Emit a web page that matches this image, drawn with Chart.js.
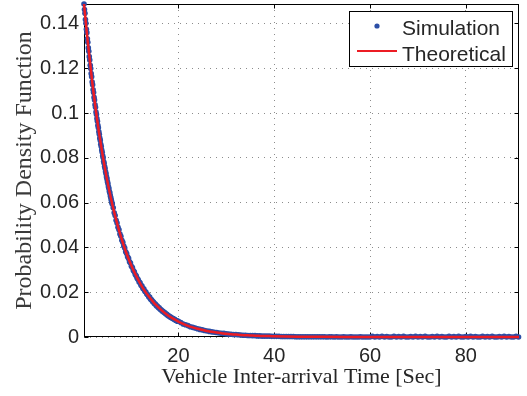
<!DOCTYPE html>
<html>
<head>
<meta charset="utf-8">
<script src="https://cdn.jsdelivr.net/npm/chart.js@4/dist/chart.umd.min.js"></script>
<style>
  html, body { margin: 0; padding: 0; background: #fff; }
  #wrap { width: 527px; height: 396px; }
</style>
</head>
<body>
<div id="wrap"><canvas id="c" width="527" height="396"></canvas></div>
<script>
// Empirical PDF of vehicle inter-arrival times, split into three bin-width segments
const simHeadStart = 0.3, simHeadStep = 0.1;
const simHeadPdf = [
  0.1487, 0.1462, 0.1446, 0.1418, 0.1401, 0.1374, 0.1359, 0.1332, 0.1316, 0.1291,
  0.1276, 0.1252, 0.1237, 0.1213, 0.1199, 0.1176, 0.1162, 0.1139, 0.1126, 0.1104,
  0.1092, 0.1070, 0.1058, 0.1037, 0.1026, 0.1005, 0.0994, 0.0975, 0.0963, 0.0945,
  0.0934, 0.0916, 0.0905, 0.0888, 0.0878, 0.0861, 0.0851, 0.0835, 0.0825, 0.0809,
  0.0800, 0.0784, 0.0776, 0.0761, 0.0752, 0.0738, 0.0729, 0.0715, 0.0706, 0.0693,
  0.0684, 0.0671, 0.0663, 0.0650, 0.0643, 0.0630, 0.0622, 0.0611, 0.0601, 0.0594
];
const simMidStart = 6.4, simMidStep = 0.2;
const simMidPdf = [
  0.0577, 0.0555, 0.0542, 0.0521, 0.0509, 0.0490, 0.0479, 0.0460, 0.0450, 0.0432,
  0.0423, 0.0406, 0.0397, 0.0381, 0.0373, 0.0358, 0.0351, 0.0336, 0.0330,
  0.0316, 0.0310, 0.0297, 0.0291, 0.0279, 0.0273, 0.0262, 0.0257, 0.0246, 0.0242,
  0.0231, 0.0227, 0.0217, 0.0214, 0.0204, 0.0201, 0.0192, 0.0189, 0.0180, 0.0178,
  0.0169, 0.0166, 0.0159, 0.0156, 0.0149, 0.0147, 0.0140, 0.0138, 0.0132, 0.0130,
  0.0124, 0.0122, 0.0116, 0.0115, 0.0109, 0.0108, 0.0103, 0.0101, 0.0096, 0.0095,
  0.0090, 0.0089, 0.0085, 0.0084, 0.0080, 0.0079, 0.0075, 0.0074, 0.0070, 0.0070
];
const simTailStart = 20.5, simTailStep = 0.5;
const simTailPdf = [
  0.0065, 0.0058, 0.0055, 0.0051, 0.0046, 0.0043, 0.0040, 0.0037, 0.0034, 0.0032,
  0.0029, 0.0027, 0.0025, 0.0023, 0.0021, 0.0020, 0.0018, 0.0017, 0.0016, 0.0014,
  0.0013, 0.0012, 0.0011, 0.0011, 0.0010, 0.0009, 0.0008, 0.0008, 0.0007, 0.0007,
  0.0006, 0.0006, 0.0005, 0.0005, 0.0004, 0.0004, 0.0004, 0.0004, 0.0003, 0.0003,
  0.0003, 0.0003, 0.0002, 0.0002, 0.0002, 0.0002, 0.0002, 0.0002, 0.0001, 0.0001,
  0.0001, 0.0001, 0.0001, 0.0001, 0.0001, 0.0001, 0.0001, 0.0001, 0.0001, 0.0001,
  0.0001, 0.0000, 0.0001, 0.0001, 0.0000, 0.0001, 0.0000, 0.0000, 0.0001, 0.0000,
  0.0000, 0.0001, 0.0000, 0.0000, 0.0000, 0.0001, 0.0000, 0.0000, 0.0000, 0.0000,
  0.0003, 0.0000, 0.0002, 0.0000, 0.0003, 0.0000, 0.0002, 0.0000, 0.0000, 0.0003,
  0.0000, 0.0002, 0.0000, 0.0003, 0.0000, 0.0000, 0.0002, 0.0000, 0.0003, 0.0000,
  0.0002, 0.0000, 0.0003, 0.0000, 0.0000, 0.0002, 0.0000, 0.0003, 0.0000, 0.0002,
  0.0000, 0.0000, 0.0003, 0.0000, 0.0002, 0.0000, 0.0003, 0.0000, 0.0000, 0.0002,
  0.0000, 0.0003, 0.0000, 0.0002, 0.0000, 0.0000, 0.0003, 0.0000, 0.0002, 0.0000,
  0.0003, 0.0000, 0.0000, 0.0002, 0.0000, 0.0003, 0.0000, 0.0002, 0.0000, 0.0000,
  0.0003, 0.0000
];

// Theoretical exponential density
const theoTime = [
  0.3, 1, 2, 3, 4, 5, 6, 7, 8, 9, 10, 11, 12, 13, 14, 15, 16, 17, 18, 19, 20,
  21, 22, 23, 24, 25, 26, 27, 28, 29, 30, 31, 32, 33, 34, 35, 36, 37, 38, 39, 40,
  45, 50, 60, 70, 80, 91.1
];
const theoPdf = [
  0.1487,
  0.1335, 0.1142, 0.0977, 0.0836, 0.0715, 0.0612, 0.0524, 0.0448, 0.0383, 0.0328,
  0.0281, 0.0240, 0.0205, 0.0176, 0.0150, 0.0129, 0.0110, 0.0094, 0.0081, 0.0069,
  0.0059, 0.0050, 0.0043, 0.0037, 0.0032, 0.0027, 0.0023, 0.0020, 0.0017, 0.0014,
  0.0012, 0.0011, 0.0009, 0.0008, 0.0007, 0.0006, 0.0005, 0.0004, 0.0004, 0.0003,
  0.0001, 0.0001, 0, 0, 0, 0
];

const xTicks = [20, 40, 60, 80];
const yTicks = [0, 0.02, 0.04, 0.06, 0.08, 0.1, 0.12, 0.14];
const seriesNames = ['Simulation', 'Theoretical'];

// Bin centres for each segment
function binPoints(start, step, values) {
  return values.map((v, i) => ({ x: Math.round((start + i * step) * 100) / 100, y: v }));
}
const simPoints = [
  ...binPoints(simHeadStart, simHeadStep, simHeadPdf),
  ...binPoints(simMidStart, simMidStep, simMidPdf),
  ...binPoints(simTailStart, simTailStep, simTailPdf)
];
const theoPoints = theoTime.map((t, i) => ({ x: t, y: theoPdf[i] }));

const INK = '#262626';
const BLUE = '#2c4ea6';
const RED = '#ec1c24';
const SANS = 'Liberation Sans, Arial, sans-serif';
const SERIF = 'Liberation Serif, Times New Roman, serif';

// Box frame with inward tick marks
const framePlugin = {
  id: 'frame',
  beforeDatasetsDraw(chart) {
    const { ctx, chartArea: a, scales } = chart;
    ctx.save();
    ctx.strokeStyle = '#000';
    ctx.lineWidth = 1;
    const L = Math.round(a.left) + 0.5, R = Math.round(a.right) - 0.5;
    const T = Math.round(a.top) + 0.5, B = Math.round(a.bottom) - 0.5;
    ctx.strokeRect(L, T, R - L, B - T);
    const len = 4;
    ctx.beginPath();
    xTicks.forEach(v => {
      const px = Math.round(scales.x.getPixelForValue(v)) + 0.5;
      ctx.moveTo(px, B); ctx.lineTo(px, B - len);
      ctx.moveTo(px, T); ctx.lineTo(px, T + len);
    });
    yTicks.forEach(v => {
      const py = Math.round(scales.y.getPixelForValue(v)) + 0.5;
      ctx.moveTo(L, py); ctx.lineTo(L + len, py);
      ctx.moveTo(R, py); ctx.lineTo(R - len, py);
    });
    ctx.stroke();
    ctx.restore();
  }
};

// Legend box in the upper right corner of the axes
const legendPlugin = {
  id: 'boxLegend',
  afterDraw(chart) {
    const { ctx } = chart;
    const ds = chart.data.datasets;
    const bx = 349.5, by = 11.5, bw = 163, bh = 55;
    ctx.save();
    ctx.fillStyle = '#fff';
    ctx.fillRect(bx, by, bw, bh);
    ctx.strokeStyle = '#000';
    ctx.lineWidth = 1;
    ctx.strokeRect(bx, by, bw, bh);
    // simulation marker
    ctx.fillStyle = ds[1].backgroundColor;
    ctx.beginPath();
    ctx.arc(377, 26, 2.6, 0, Math.PI * 2);
    ctx.fill();
    // theoretical line sample
    ctx.strokeStyle = ds[0].borderColor;
    ctx.lineWidth = 2;
    ctx.beginPath();
    ctx.moveTo(357, 51); ctx.lineTo(397, 51);
    ctx.stroke();
    ctx.fillStyle = INK;
    ctx.font = '21px ' + SANS;
    ctx.textBaseline = 'alphabetic';
    ctx.textAlign = 'left';
    ctx.fillText(ds[1].label, 402, 35);
    ctx.fillText(ds[0].label, 402, 61);
    ctx.restore();
  }
};

new Chart(document.getElementById('c'), {
  type: 'scatter',
  data: {
    datasets: [
      {
        label: seriesNames[1],
        data: theoPoints,
        showLine: true,
        borderColor: RED,
        backgroundColor: RED,
        borderWidth: 2.5,
        pointRadius: 0,
        cubicInterpolationMode: 'monotone',
        clip: false,
        order: 0
      },
      {
        label: seriesNames[0],
        data: simPoints,
        showLine: false,
        backgroundColor: BLUE,
        borderColor: BLUE,
        borderWidth: 0,
        pointRadius: 2.8,
        clip: false,
        order: 1
      }
    ]
  },
  options: {
    responsive: false,
    animation: false,
    devicePixelRatio: 1,
    layout: { padding: { left: 0, top: 4, right: 8, bottom: 0 } },
    plugins: { legend: { display: false }, tooltip: { enabled: false } },
    scales: {
      x: {
        type: 'linear',
        min: 0.3,
        max: 91.1,
        afterBuildTicks: s => { s.ticks = xTicks.map(v => ({ value: v })); },
        afterFit: s => { s.height = 59; s.paddingLeft = 0; s.paddingRight = 0; },
        grid: { color: '#8c8c8c', lineWidth: 1, drawTicks: false },
        border: { display: false, dash: [1, 5] },
        ticks: { color: INK, font: { family: SANS, size: 20 }, padding: 7, maxRotation: 0, autoSkip: false },
        title: {
          display: true,
          text: 'Vehicle Inter-arrival Time [Sec]',
          color: INK,
          font: { family: SERIF, size: 22 },
          padding: { top: 0, bottom: 6 }
        }
      },
      y: {
        type: 'linear',
        min: 0,
        max: 0.1487,
        afterBuildTicks: s => { s.ticks = yTicks.map(v => ({ value: v })); },
        afterFit: s => { s.width = 84; s.paddingTop = 0; s.paddingBottom = 0; },
        grid: { color: '#8c8c8c', lineWidth: 1, drawTicks: false },
        border: { display: false, dash: [1, 5] },
        ticks: { color: INK, font: { family: SANS, size: 20 }, padding: 5, callback: v => String(v) },
        title: {
          display: true,
          text: 'Probability Density Function',
          color: '#3a3a3a',
          font: { family: SERIF, size: 24 },
          padding: { top: 10, bottom: 0 }
        }
      }
    }
  },
  plugins: [framePlugin, legendPlugin]
});
</script>
</body>
</html>
